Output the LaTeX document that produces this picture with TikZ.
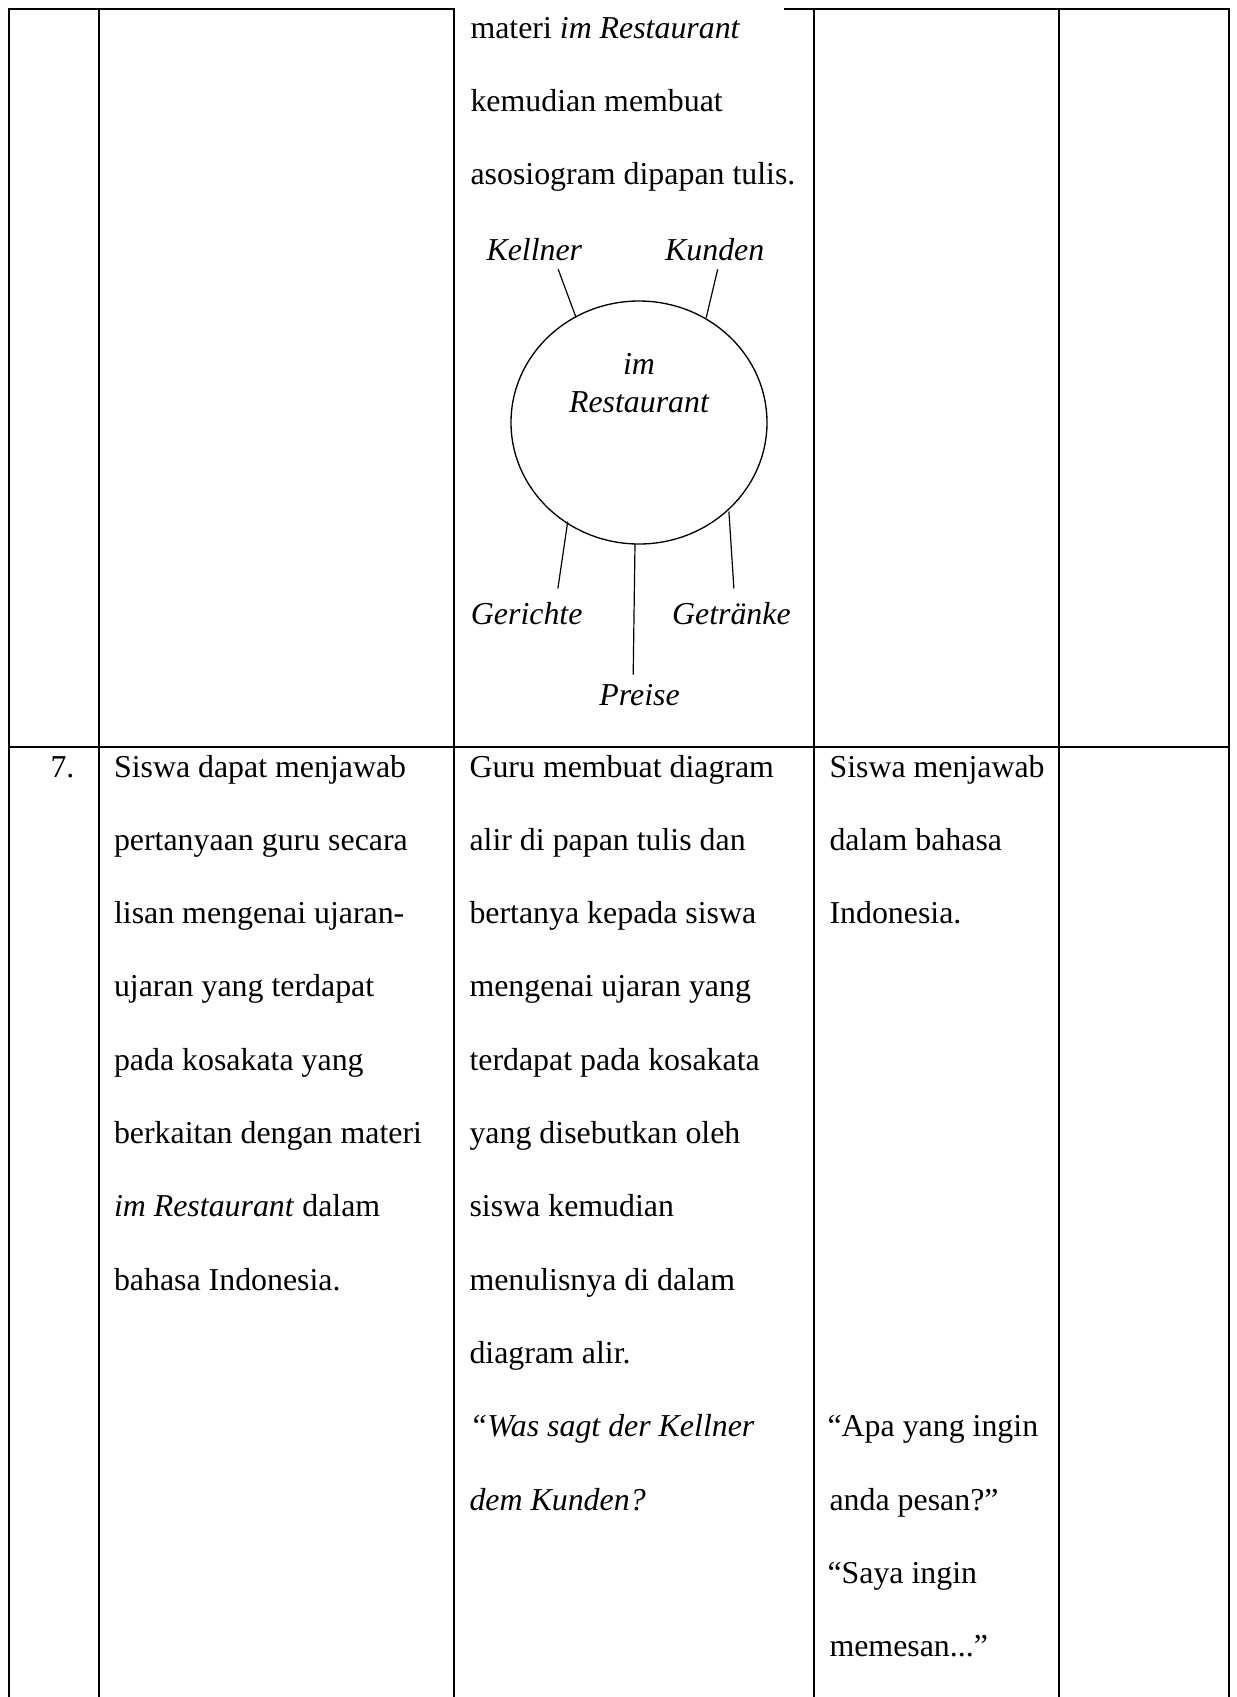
\documentclass[tikz,border=0pt]{standalone}
\usepackage{fontspec}
\setmainfont{Liberation Serif}
\begin{document}
\begin{tikzpicture}[x=0.3765pt,y=-0.3765pt,
  font=\fontsize{12}{14}\selectfont,
  txt/.style={anchor=base west, inner sep=0pt},
  lbl/.style={anchor=base, inner sep=0pt, font=\fontsize{12}{14}\selectfont\itshape},
  gridline/.style={line width=0.45pt, line cap=rect},
  spoke/.style={line width=0.45pt},
  ring/.style={line width=0.5pt}]
\useasboundingbox (0,0) rectangle (1237,1697);

% ---- table grid ----
\draw[gridline] (9,9) -- (454,9);
\draw[gridline] (785,9) -- (1229,9);
\draw[gridline] (9,747) -- (1229,747);
\foreach \xx in {9,99,454,814,1059,1229}
  \draw[gridline] (\xx,9) -- (\xx,1697);

% ---- upper row, column 3 ----
\node[txt] (t1) at (470,38) {materi \textit{im Restaurant}};
\node[txt] (t2) at (470,111.3) {kemudian membuat};
\node[txt] (t3) at (470,184.6) {asosiogram dipapan tulis.};

% ---- asosiogram ----
\draw[ring] (639,422.5) ellipse [x radius=128, y radius=121.5];
\node[lbl] (im) at (639,374) {im};
\node[lbl] (rest) at (639,412) {Restaurant};

\node[lbl] (kel) at (534.3,260.8) {Kellner};
\node[lbl] (kun) at (714.7,260.8) {Kunden};
\node[lbl] (ger) at (526.7,624) {Gerichte};
\node[lbl] (get) at (731.4,624) {Getränke};
\node[lbl] (pre) at (639.6,705) {Preise};

\coordinate (kelA) at (558.2,269.3);  \coordinate (kelB) at (576.1,317.6);
\coordinate (kunA) at (717.7,269.3);  \coordinate (kunB) at (706.2,317.6);
\coordinate (gerA) at (557.9,588.5);  \coordinate (gerB) at (567.7,521.6);
\coordinate (getA) at (733.9,588.5);  \coordinate (getB) at (728.9,511.5);
\coordinate (preA) at (633.2,674.7);  \coordinate (preB) at (635,544);
\draw[spoke] (kelA) -- (kelB);
\draw[spoke] (kunA) -- (kunB);
\draw[spoke] (gerA) -- (gerB);
\draw[spoke] (getA) -- (getB);
\draw[spoke] (preA) -- (preB);

% ---- row 7 ----
\node[txt] (n7) at (50,777) {7.};

\node[txt] (a1) at (113.5,777)   {Siswa dapat menjawab};
\node[txt] (a2) at (113.5,850.3) {pertanyaan guru secara};
\node[txt] (a3) at (113.5,923.6) {lisan mengenai ujaran-};
\node[txt] (a4) at (113.5,996.9) {ujaran yang terdapat};
\node[txt] (a5) at (113.5,1070.2) {pada kosakata yang};
\node[txt] (a6) at (113.5,1143.5) {berkaitan dengan materi};
\node[txt] (a7) at (113.5,1216.8) {\textit{im Restaurant} dalam};
\node[txt] (a8) at (113.5,1290.1) {bahasa Indonesia.};

\node[txt] (b1) at (469,777)    {Guru membuat diagram};
\node[txt] (b2) at (469,850.3)  {alir di papan tulis dan};
\node[txt] (b3) at (469,923.6)  {bertanya kepada siswa};
\node[txt] (b4) at (469,996.9)  {mengenai ujaran yang};
\node[txt] (b5) at (469,1070.2) {terdapat pada kosakata};
\node[txt] (b6) at (469,1143.5) {yang disebutkan oleh};
\node[txt] (b7) at (469,1216.8) {siswa kemudian};
\node[txt] (b8) at (469,1290.1) {menulisnya di dalam};
\node[txt] (b9) at (469,1363.4) {diagram alir.};
\node[txt] (b10) at (469,1436.7) {\textit{“Was sagt der Kellner}};
\node[txt] (b11) at (469,1510)   {\textit{dem Kunden?}};

\node[txt] (c1) at (829,777)    {Siswa menjawab};
\node[txt] (c2) at (829,850.3)  {dalam bahasa};
\node[txt] (c3) at (829,923.6)  {Indonesia.};
\node[txt] (c4) at (827,1436.7) {“Apa yang ingin};
\node[txt] (c5) at (829,1510)   {anda pesan?”};
\node[txt] (c6) at (827,1583.3) {“Saya ingin};
\node[txt] (c7) at (829,1656.6) {memesan...”};
\end{tikzpicture}
\end{document}
